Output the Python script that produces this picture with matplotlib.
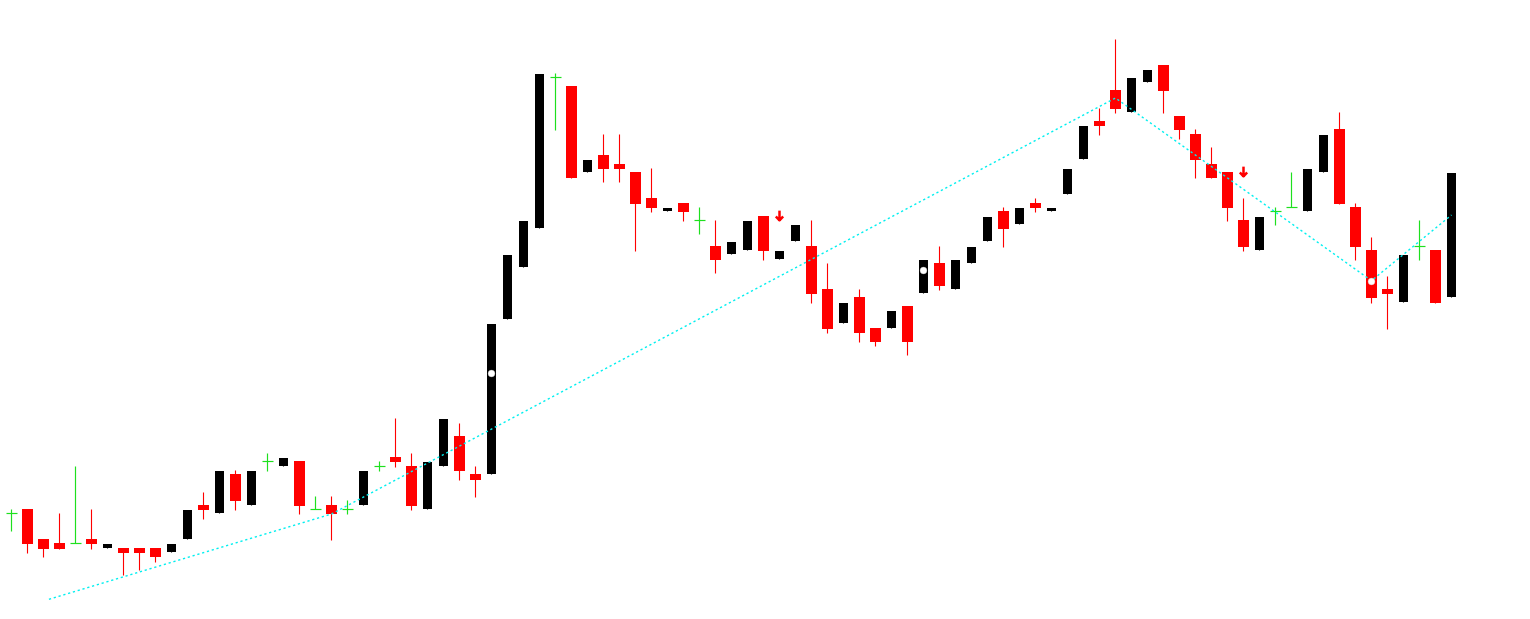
import matplotlib
matplotlib.use('Agg')
import matplotlib.pyplot as plt
from matplotlib.path import Path
import numpy as np

# OHLC values (91 bars)
opens = [107, 111, 81, 77, 76.7, 81, 72, 72, 72, 72,
         68, 81, 115, 107, 146, 115, 159, 154, 159, 111,
         115, 111, 115, 154, 163, 154, 111, 154, 184, 146,
         146, 301.3, 353.3, 392.3, 542.7, 534, 448.3, 465, 456, 448,
         422, 409.3, 417, 399.7, 374, 366.3, 370.3, 404, 361.3, 379.3,
         374, 331, 297.3, 323, 292, 292.3, 314, 327.3, 357, 331.3,
         357.3, 379.3, 409, 396.3, 417, 409.3, 426.3, 461.3, 499.3, 530,
         508.3, 538.3, 555, 504, 486, 456, 448, 400, 370.3, 408.7,
         412.7, 409.3, 448.3, 491, 413, 370, 331, 318.3, 373.7, 370,
         323.3]
highs = [111, 111, 81, 107, 154, 111, 76, 72, 72, 72,
         76, 110, 128, 149, 150, 149, 167, 162, 159, 124,
         124, 120, 149, 159, 202, 167, 158, 201, 197, 154,
         296, 365, 399, 546, 546.7, 534, 460, 486, 486, 448,
         452, 412, 417, 413, 400, 378, 399, 404, 369, 395,
         400, 357, 317, 331, 292, 309, 314, 360, 374, 360,
         373, 403, 413, 412, 422, 412, 451, 494, 512, 581,
         542, 550, 555, 504, 491, 473, 448, 422, 403, 413,
         448, 451, 485, 508, 417, 383, 344, 365, 400, 370,
         447]
lows = [89, 67, 63, 71, 76.7, 71, 72, 45, 50, 58,
        68, 81, 101, 107, 110, 115, 149, 154, 106, 111,
        80, 106, 115, 149, 153, 110, 111, 154, 140, 123,
        146, 301.3, 353.3, 392.3, 490.3, 442.3, 448.3, 438.3, 438.3, 369.3,
        408.3, 409.3, 399.3, 386.3, 347.3, 366.3, 370.3, 360.3, 361.3, 379.3,
        317.3, 287.3, 297.3, 278.3, 274.3, 292.3, 265.3, 327.3, 330.3, 331.3,
        357.3, 379.3, 373.3, 396.3, 408.3, 409.3, 426.3, 461.3, 485.3, 507.3,
        508.3, 538.3, 507.3, 481.3, 442.3, 442.3, 399.3, 369.3, 370.3, 395.3,
        412.7, 409.3, 448.3, 416.3, 360.3, 317.3, 291.3, 318.3, 360.3, 317.3,
        323.3]
closes = [107, 76, 71, 71, 76.7, 76, 76, 67, 67, 63,
          76, 110, 110, 149, 119, 149, 159, 162, 114, 111,
          106, 111, 149, 154, 158, 114, 158, 201, 149, 140,
          296, 365, 399, 546, 542.7, 442.3, 460, 451.3, 451.3, 416.3,
          412.3, 412, 408.3, 399.7, 360.3, 378, 399, 369.3, 369, 395,
          326.3, 291.3, 317, 287.3, 278.3, 309, 278.3, 360, 334.3, 360,
          373, 403, 391.3, 412, 412.3, 412, 451, 494, 494.3, 511.3,
          542, 550, 529.3, 490.3, 460.3, 442.3, 412.3, 373.3, 403, 408.7,
          412.7, 451, 485, 416.3, 373.3, 322.3, 326.3, 365, 373.7, 317.3,
          447]

# zigzag line vertices (bar index, price)
zz_idx = [2.34, 20, 69, 85, 90]
zz_val = [20.7, 106, 522, 339.3, 405]

# signal markers
dot_idx = [30, 57, 85]
dot_val = [247.3, 350, 339.3]
arrow_idx = [48, 77]
arrow_val = [405.5, 449.5]

UP = '#000000'
DOWN = '#ff0000'
DOJI = '#1ee01e'

fig = plt.figure(figsize=(15.3, 6.19), dpi=100)
ax = fig.add_axes([0, 0, 1, 1])
ax.set_xlim(-11.5 / 16, (1530 - 11.5) / 16)
ax.set_ylim(1, 620)
ax.axis('off')

o = np.array(opens)
h = np.array(highs)
l = np.array(lows)
c = np.array(closes)
x = np.arange(len(o))

up = c > o
down = c < o
doji = c == o

# red candles: wick + body
ax.vlines(x[down], l[down], h[down], color=DOWN, linewidth=0.8, zorder=2)
ax.bar(x[down], (o - c)[down], bottom=c[down], width=0.6875,
       color=DOWN, linewidth=0, zorder=3)

# black candles
ax.vlines(x[up], l[up], h[up], color=UP, linewidth=0.8, zorder=2)
ax.bar(x[up], (c - o)[up], bottom=o[up], width=0.5625,
       color=UP, linewidth=0, zorder=3)

# doji crosses
ax.vlines(x[doji], l[doji], h[doji], color=DOJI, linewidth=0.85, zorder=3)
ax.hlines(o[doji], x[doji] - 0.34, x[doji] + 0.34, color=DOJI,
          linewidth=0.85, zorder=3)

# zigzag
ax.plot(zz_idx, zz_val, color='#00f0f0', linewidth=1.0,
        linestyle=(0, (1.6, 2.0)), zorder=4)

# white dots
ax.scatter(dot_idx, dot_val, s=24, color='white', edgecolors='#dddddd',
           linewidths=0.3, zorder=5)

# red down arrows
arrow_path = Path([(0, 1), (0, -1), (-0.75, -0.2), (0, -1), (0.75, -0.2)],
                  [Path.MOVETO, Path.LINETO, Path.MOVETO, Path.LINETO,
                   Path.LINETO])
ax.plot(arrow_idx, arrow_val, linestyle='none', marker=arrow_path,
        markersize=7, markeredgewidth=1.8, markeredgecolor='#ff0000',
        markerfacecolor='none', zorder=5)

fig.savefig('out.png', dpi=100, facecolor='white')
